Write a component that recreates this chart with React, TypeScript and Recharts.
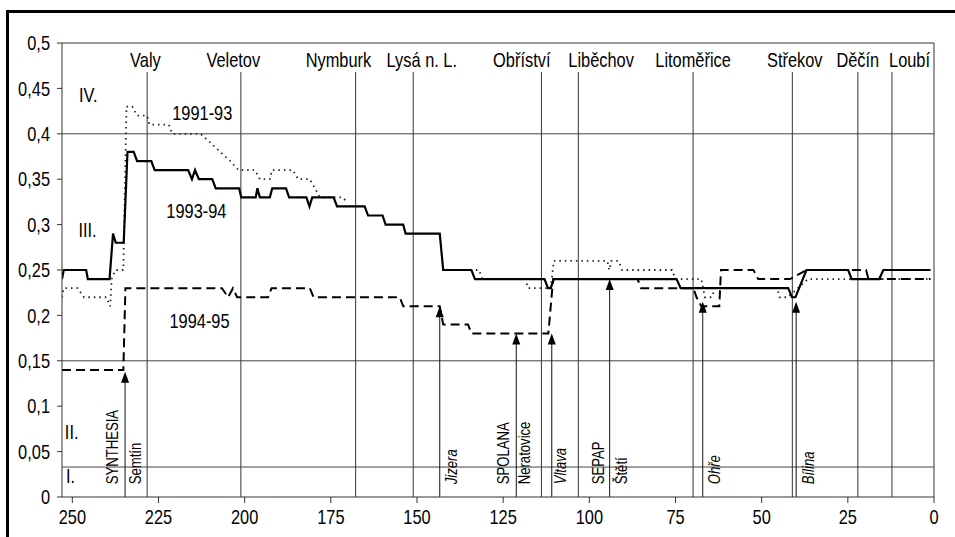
import { LineChart, Line, XAxis, YAxis, ReferenceLine, ReferenceDot } from "recharts";

const FONT = "'Liberation Sans', Arial, sans-serif";
const NARROW = 0.82;

// km of the Elbe (distance to the border) and concentration
const xTicks = [250, 225, 200, 175, 150, 125, 100, 75, 50, 25, 0];
const yTicks = [0, 0.05, 0.1, 0.15, 0.2, 0.25, 0.3, 0.35, 0.4, 0.45, 0.5];

// limits between quality classes
const classLimits = [0.4, 0.15, 0.033];
const classLabels = [
  { text: "IV.", km: 245.4, v: 0.443 },
  { text: "III.", km: 245.6, v: 0.294 },
  { text: "II.", km: 250.2, v: 0.072 },
  { text: "I.", km: 250.5, v: 0.023 },
];

const places = [
  { name: "Valy", km: 228.3, labelKm: 228.8 },
  { name: "Veletov", km: 201.1, labelKm: 203.3 },
  { name: "Nymburk", km: 167.8, labelKm: 172.8 },
  { name: "Lysá n. L.", km: 151.1, labelKm: 148.6 },
  { name: "Obříství", km: 113.9, labelKm: 119.6 },
  { name: "Liběchov", km: 103.2, labelKm: 96.6 },
  { name: "Litoměřice", km: 69.9, labelKm: 69.9 },
  { name: "Střekov", km: 41.1, labelKm: 40.4 },
  { name: "Děčín", km: 22.1, labelKm: 22.1 },
  { name: "Loubí", km: 12.2, labelKm: 7.1 },
];

// inputs (arrows): km and level reached
const inputs = [
  { km: 234.7, v: 0.138 },
  { km: 143.4, v: 0.21 },
  { km: 121.2, v: 0.18 },
  { km: 110.9, v: 0.18 },
  { km: 94.1, v: 0.24 },
  { km: 67.1, v: 0.215 },
  { km: 40.0, v: 0.215 },
];

const factories = [
  { name: "SYNTHESIA", km: 238.3 },
  { name: "Semtín", km: 231.6 },
  { name: "SPOLANA", km: 124.8 },
  { name: "Neratovice", km: 118.7 },
  { name: "SEPAP", km: 97.3 },
  { name: "Štětí", km: 90.6 },
];
const rivers = [
  { name: "Jizera", km: 140.0 },
  { name: "Vltava", km: 108.4 },
  { name: "Ohře", km: 63.7 },
  { name: "Bílina", km: 36.5 },
];

const seriesLabels = [
  { text: "1991-93", km: 212.3, v: 0.423 },
  { text: "1993-94", km: 214.0, v: 0.315 },
  { text: "1994-95", km: 213.1, v: 0.194 },
];

const s1991 = [
  { km: 253, v: 0.22 }, { km: 252.5, v: 0.23 }, { km: 248.5, v: 0.23 }, { km: 246.6, v: 0.22 },
  { km: 240.1, v: 0.22 }, { km: 239, v: 0.21 }, { km: 238.6, v: 0.24 }, { km: 237.5, v: 0.25 },
  { km: 235.2, v: 0.25 }, { km: 234.3, v: 0.43 }, { km: 232.6, v: 0.43 }, { km: 231.2, v: 0.42 },
  { km: 228.3, v: 0.42 }, { km: 227.6, v: 0.41 }, { km: 222, v: 0.41 }, { km: 221, v: 0.4 },
  { km: 212.8, v: 0.4 }, { km: 209.9, v: 0.39 }, { km: 207.1, v: 0.38 }, { km: 204.2, v: 0.37 },
  { km: 201.8, v: 0.36 }, { km: 197, v: 0.36 }, { km: 195.6, v: 0.35 }, { km: 192.7, v: 0.35 },
  { km: 192.1, v: 0.36 }, { km: 186, v: 0.36 }, { km: 184.5, v: 0.35 }, { km: 181.1, v: 0.35 },
  { km: 179.6, v: 0.34 }, { km: 178.2, v: 0.33 }, { km: 171.5, v: 0.33 }, { km: 170.4, v: 0.325 },
  { km: 170, v: null },
  { km: 134.5, v: 0.25 }, { km: 132, v: 0.25 }, { km: 131, v: 0.24 }, { km: 118.5, v: 0.24 },
  { km: 117.8, v: 0.23 }, { km: 111.2, v: 0.23 }, { km: 110.3, v: 0.26 }, { km: 94.8, v: 0.26 },
  { km: 94.2, v: 0.25 }, { km: 93.6, v: 0.26 }, { km: 91.5, v: 0.26 }, { km: 90.5, v: 0.25 },
  { km: 76, v: 0.25 }, { km: 75, v: 0.24 }, { km: 67.5, v: 0.24 }, { km: 66.5, v: 0.22 },
  { km: 64.5, v: 0.22 }, { km: 63.5, v: 0.23 }, { km: 45.5, v: 0.23 }, { km: 44.8, v: 0.22 },
  { km: 42.4, v: 0.22 }, { km: 36.6, v: 0.24 }, { km: 1, v: 0.24 },
];

const s1993 = [
  { km: 253, v: 0.24 }, { km: 252.5, v: 0.25 }, { km: 246, v: 0.25 }, { km: 245.5, v: 0.24 },
  { km: 239.2, v: 0.24 }, { km: 238.2, v: 0.29 }, { km: 237.4, v: 0.28 }, { km: 235.1, v: 0.28 },
  { km: 234, v: 0.38 }, { km: 232.2, v: 0.38 }, { km: 231.2, v: 0.37 }, { km: 227.1, v: 0.37 },
  { km: 226.1, v: 0.36 }, { km: 216.4, v: 0.36 }, { km: 215.3, v: 0.35 }, { km: 214.4, v: 0.36 },
  { km: 213.3, v: 0.35 }, { km: 209.4, v: 0.35 }, { km: 208.4, v: 0.34 }, { km: 201.6, v: 0.34 },
  { km: 201, v: 0.33 }, { km: 196.8, v: 0.33 }, { km: 196.3, v: 0.34 }, { km: 195.6, v: 0.33 },
  { km: 192.7, v: 0.33 }, { km: 192, v: 0.34 }, { km: 188, v: 0.34 }, { km: 187.1, v: 0.33 },
  { km: 182.1, v: 0.33 }, { km: 181.2, v: 0.32 }, { km: 180.4, v: 0.33 }, { km: 174.2, v: 0.33 },
  { km: 173.2, v: 0.32 }, { km: 165.2, v: 0.32 }, { km: 164.2, v: 0.31 }, { km: 160, v: 0.31 },
  { km: 159.1, v: 0.3 }, { km: 154, v: 0.3 }, { km: 153.3, v: 0.29 }, { km: 143.4, v: 0.29 },
  { km: 142.4, v: 0.25 }, { km: 134.2, v: 0.25 }, { km: 133.2, v: 0.24 }, { km: 113, v: 0.24 },
  { km: 112, v: 0.23 }, { km: 111.2, v: 0.23 }, { km: 110.3, v: 0.24 }, { km: 74.7, v: 0.24 },
  { km: 73.5, v: 0.23 }, { km: 42.3, v: 0.23 }, { km: 41.2, v: 0.22 }, { km: 40.2, v: 0.22 },
  { km: 37, v: 0.25 }, { km: 24.9, v: 0.25 }, { km: 23.9, v: 0.24 }, { km: 15.9, v: 0.24 },
  { km: 14.7, v: 0.25 }, { km: 1, v: 0.25 },
];

const s1994 = [
  { km: 253, v: 0.14 }, { km: 235.2, v: 0.14 }, { km: 234.6, v: 0.23 }, { km: 206.6, v: 0.23 },
  { km: 204.8, v: 0.22 }, { km: 203.4, v: 0.23 }, { km: 202.2, v: 0.22 }, { km: 193.2, v: 0.22 },
  { km: 192.2, v: 0.23 }, { km: 181.1, v: 0.23 }, { km: 180, v: 0.22 }, { km: 155, v: 0.22 },
  { km: 154, v: 0.21 }, { km: 143.4, v: 0.21 }, { km: 142.4, v: 0.19 }, { km: 135.2, v: 0.19 },
  { km: 134.2, v: 0.18 }, { km: 111.9, v: 0.18 }, { km: 110.5, v: 0.24 }, { km: 86, v: 0.24 },
  { km: 85, v: 0.23 }, { km: 69.8, v: 0.23 }, { km: 68.9, v: 0.22 }, { km: 67.5, v: 0.21 },
  { km: 62.3, v: 0.21 }, { km: 61.8, v: 0.25 }, { km: 52.4, v: 0.25 }, { km: 51, v: 0.24 },
  { km: 41.8, v: 0.24 }, { km: 37, v: 0.25 }, { km: 19.7, v: 0.25 }, { km: 19, v: 0.24 },
  { km: 1, v: 0.24 },
];

// condensed text: Arial metrics squeezed horizontally
const NText = (p: {
  x: number;
  y: number;
  text: string;
  size: number;
  anchor?: "start" | "middle" | "end";
  rotate?: boolean;
  italic?: boolean;
}) => (
  <text
    transform={`translate(${p.x} ${p.y})${p.rotate ? " rotate(-90)" : ""} scale(${NARROW} 1)`}
    x={0}
    y={0}
    textAnchor={p.anchor || "middle"}
    dominantBaseline="central"
    fontSize={p.size}
    fontFamily={FONT}
    fontStyle={p.italic ? "italic" : "normal"}
    fill="#000"
  >
    {p.text}
  </text>
);

const textAt =
  (text: string, size: number, opts: { rotate?: boolean; italic?: boolean } = {}) =>
  (props: any) => {
    const { x, y } = props.viewBox;
    return (
      <NText
        x={x}
        y={y}
        text={text}
        size={size}
        anchor={opts.rotate ? "start" : "middle"}
        rotate={opts.rotate}
        italic={opts.italic}
      />
    );
  };

const fmt = (v: number) => String(v).replace(".", ",");

const XTick = (props: any) => (
  <NText x={props.x} y={props.y + 7} text={String(props.payload.value)} size={20} />
);
const YTick = (props: any) => (
  <NText x={props.x} y={props.y} text={fmt(props.payload.value)} size={20} anchor="end" />
);

const arrowShape = (p: any) => {
  const { x1, y1, y2 } = p;
  const top = Math.min(y1, y2);
  const bottom = Math.max(y1, y2);
  return (
    <g>
      <line x1={x1} y1={bottom} x2={x1} y2={top + 6} stroke="#111" strokeWidth={1} />
      <polygon points={`${x1},${top} ${x1 - 4},${top + 11} ${x1 + 4},${top + 11}`} fill="#000" />
    </g>
  );
};

const App = () => {
  return (
    <div
      style={{
        position: "absolute",
        left: 0,
        top: 0,
        width: 955,
        height: 537,
        overflow: "hidden",
        background: "#fff",
      }}
    >
      <div
        style={{
          position: "absolute",
          left: 6,
          top: 10,
          width: 2000,
          height: 2000,
          borderTop: "3px solid #000",
          borderLeft: "3px solid #000",
        }}
      />
      <div style={{ position: "absolute", left: 0, top: 0 }}>
        <LineChart
          width={955}
          height={537}
          margin={{ top: 43, right: 21, left: 0, bottom: 10 }}
          style={{ fontFamily: FONT }}
        >
          <XAxis
            dataKey="km"
            type="number"
            domain={[0, 253]}
            reversed
            allowDataOverflow
            ticks={xTicks}
            interval={0}
            height={30}
            tickSize={6}
            tickMargin={7}
            stroke="#333"
            tick={XTick}
          />
          <YAxis
            type="number"
            domain={[0, 0.5]}
            ticks={yTicks}
            interval={0}
            width={62}
            tickSize={5}
            tickMargin={7}
            stroke="#333"
            tick={YTick}
          />
          <ReferenceLine y={0.5} stroke="#333" strokeWidth={1} />
          <ReferenceLine x={0} stroke="#333" strokeWidth={1} />
          {classLimits.map((v) => (
            <ReferenceLine key={v} y={v} stroke="#444" strokeWidth={1} />
          ))}
          {places.map((p) => (
            <ReferenceLine
              key={p.name}
              segment={[
                { x: p.km, y: 0 },
                { x: p.km, y: 0.468 },
              ]}
              stroke="#333"
              strokeWidth={1}
            />
          ))}
          {places.map((p) => (
            <ReferenceDot
              key={"l" + p.name}
              x={p.labelKm}
              y={0.481}
              r={0}
              fill="none"
              stroke="none"
              label={textAt(p.name, 20)}
            />
          ))}
          {classLabels.map((c) => (
            <ReferenceDot
              key={c.text}
              x={c.km}
              y={c.v}
              r={0}
              fill="none"
              stroke="none"
              label={textAt(c.text, 20)}
            />
          ))}
          {seriesLabels.map((c) => (
            <ReferenceDot
              key={c.text}
              x={c.km}
              y={c.v}
              r={0}
              fill="none"
              stroke="none"
              label={textAt(c.text, 20)}
            />
          ))}
          {factories.map((f) => (
            <ReferenceDot
              key={f.name}
              x={f.km}
              y={0.014}
              r={0}
              fill="none"
              stroke="none"
              label={textAt(f.name, 16, { rotate: true })}
            />
          ))}
          {rivers.map((f) => (
            <ReferenceDot
              key={f.name}
              x={f.km}
              y={0.014}
              r={0}
              fill="none"
              stroke="none"
              label={textAt(f.name, 16, { rotate: true, italic: true })}
            />
          ))}
          <Line
            data={s1991}
            dataKey="v"
            type="linear"
            stroke="#222"
            strokeWidth={1.8}
            strokeDasharray="1.5 4"
            dot={false}
            activeDot={false}
            connectNulls={false}
            isAnimationActive={false}
          />
          <Line
            data={s1994}
            dataKey="v"
            type="linear"
            stroke="#000"
            strokeWidth={2}
            strokeDasharray="9 5"
            dot={false}
            activeDot={false}
            isAnimationActive={false}
          />
          <Line
            data={s1993}
            dataKey="v"
            type="linear"
            stroke="#000"
            strokeWidth={2.2}
            dot={false}
            activeDot={false}
            isAnimationActive={false}
          />
          {inputs.map((a) => (
            <ReferenceLine
              key={a.km}
              segment={[
                { x: a.km, y: 0 },
                { x: a.km, y: a.v },
              ]}
              shape={arrowShape}
            />
          ))}
        </LineChart>
      </div>
    </div>
  );
};

export default App;
